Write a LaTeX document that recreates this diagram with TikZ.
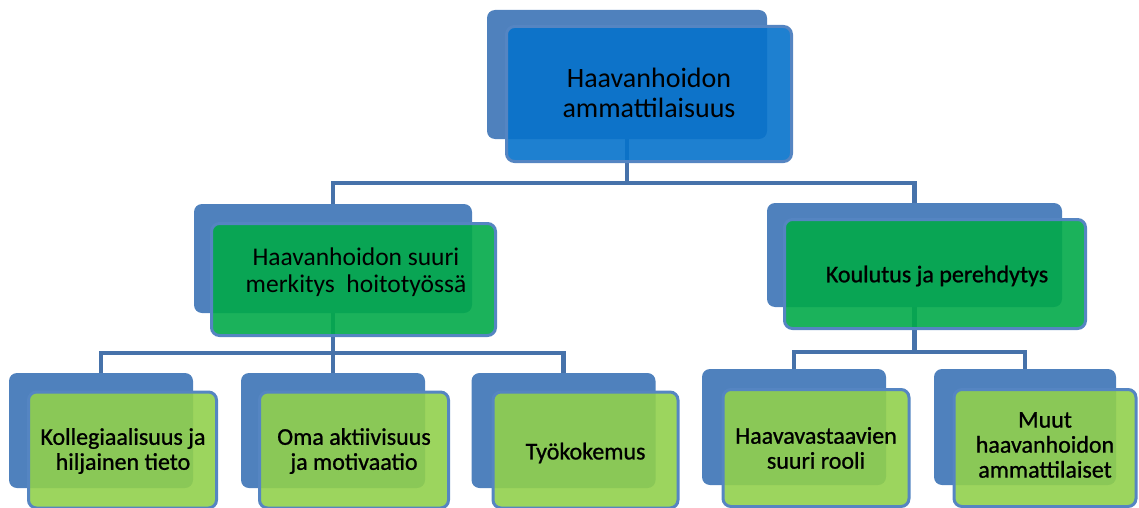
\documentclass[tikz,border=0pt]{standalone}
\usepackage{fontspec}
\setmainfont{Carlito}
\newfontfamily\heavyfont{Carlito}[FakeBold=0.9]
\definecolor{backblue}{HTML}{4F81BD}
\definecolor{frameblue}{HTML}{5585C2}
\definecolor{connblue}{HTML}{4672AA}
\definecolor{topblue}{HTML}{0672CB}
\definecolor{midgreen}{HTML}{02AA49}
\definecolor{lowgreen}{HTML}{91D04C}
\begin{document}
\begin{tikzpicture}[x=1pt,y=-1pt,
  backbox/.style={rectangle, fill=backblue, rounded corners=8pt, inner sep=0pt, outer sep=0pt},
  frontbox/.style={rectangle, draw=frameblue, line width=3pt, rounded corners=8pt, inner sep=0pt, outer sep=0pt, fill opacity=0.9},
  topfront/.style={frontbox, fill=topblue},
  midfront/.style={frontbox, fill=midgreen},
  lowfront/.style={frontbox, fill=lowgreen},
  conn/.style={draw=connblue, line width=4.5pt},
  txt/.style={align=center, text=black, inner sep=0pt},
  toptxt/.style={txt, font={\fontsize{28}{30}\selectfont}},
  midtxt/.style={txt, font={\fontsize{25.5}{27}\selectfont}},
  lowtxt/.style={txt, font={\heavyfont\fontsize{24}{25}\selectfont}}]
\useasboundingbox (0,0) rectangle (1139,508);
% back boxes
\node[backbox, minimum width=280pt, minimum height=129pt] (b0) at (627,74.5) {};
\node[backbox, minimum width=278pt, minimum height=109pt] (b1) at (333,258.5) {};
\node[backbox, minimum width=295pt, minimum height=104pt] (b2) at (914.5,255) {};
\node[backbox, minimum width=184pt, minimum height=115pt] (b3) at (101,430.5) {};
\node[backbox, minimum width=184pt, minimum height=115pt] (b4) at (333,430.5) {};
\node[backbox, minimum width=184pt, minimum height=115pt] (b5) at (563.5,430.5) {};
\node[backbox, minimum width=184pt, minimum height=116pt] (b6) at (794,427) {};
\node[backbox, minimum width=182pt, minimum height=116pt] (b7) at (1025,427) {};
% connectors
\coordinate (j0) at (627,183);
\coordinate (j1) at (333,353);
\coordinate (j2) at (914.5,352);
\draw[conn] (b0.south) -- (j0);
\draw[conn] (b1.north) |- (j0);
\draw[conn] (b2.north) |- (j0);
\draw[conn] (b1.south) -- (j1);
\draw[conn] (b3.north) |- (j1);
\draw[conn] (b4.north) -- (j1);
\draw[conn] (b5.north) |- (j1);
\draw[conn] (b2.south) -- (j2);
\draw[conn] (b6.north) |- (j2);
\draw[conn] (b7.north) |- (j2);
% front boxes
\node[topfront, minimum width=285pt, minimum height=135pt] (f0) at (649,94) {};
\node[midfront, minimum width=284pt, minimum height=112pt] (f1) at (353.5,279.5) {};
\node[midfront, minimum width=301pt, minimum height=109pt] (f2) at (935,274) {};
\node[lowfront, minimum width=188pt, minimum height=116pt] (f3) at (122.5,450) {};
\node[lowfront, minimum width=189pt, minimum height=116pt] (f4) at (354,450) {};
\node[lowfront, minimum width=185pt, minimum height=116pt] (f5) at (585.5,450) {};
\node[lowfront, minimum width=186pt, minimum height=117pt] (f6) at (816,448) {};
\node[lowfront, minimum width=182pt, minimum height=117pt] (f7) at (1045,448) {};
% texts
\node[toptxt] (t0) at (649,93) {Haavanhoidon\\ammattilaisuus};
\node[midtxt] (t1) at (356,272) {Haavanhoidon suuri\\merkitys\ \ hoitotyössä};
\node[lowtxt] (t2) at (937,276) {Koulutus ja perehdytys};
\node[lowtxt] (t3) at (123,451) {Kollegiaalisuus ja\\hiljainen tieto};
\node[lowtxt] (t4) at (354,451) {Oma aktiivisuus\\ja motivaatio};
\node[lowtxt] (t5) at (585.5,453) {Työkokemus};
\node[lowtxt] (t6) at (816,448) {Haavavastaavien\\suuri rooli};
\node[lowtxt] (t7) at (1045,445) {Muut\\haavanhoidon\\ammattilaiset};
\end{tikzpicture}
\end{document}
